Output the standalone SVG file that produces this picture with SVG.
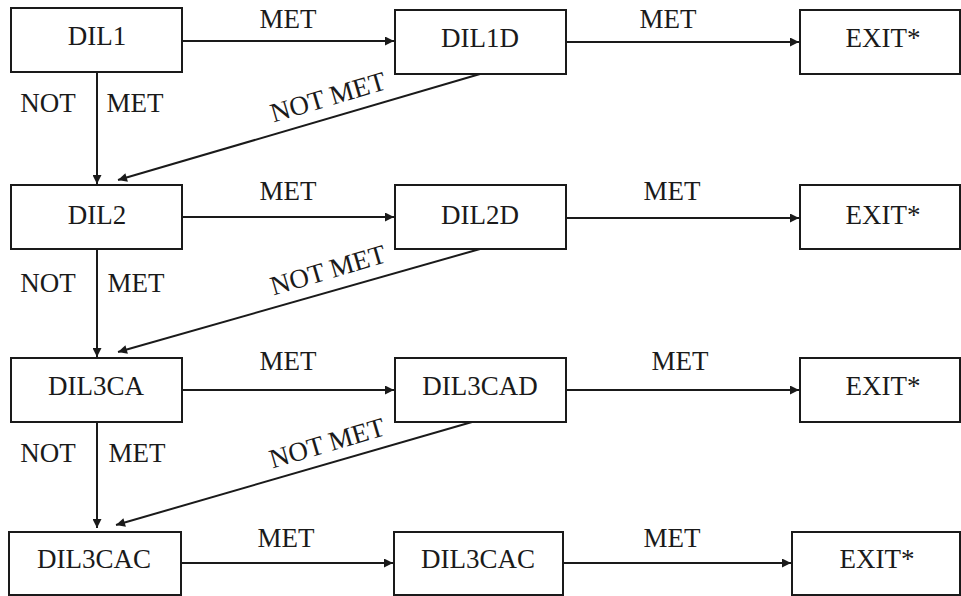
<svg xmlns="http://www.w3.org/2000/svg" width="961" height="596" viewBox="0 0 961 596">
<defs>
<marker id="ah" viewBox="0 0 10 10" refX="10" refY="5" markerWidth="11" markerHeight="9" markerUnits="userSpaceOnUse" orient="auto">
<path d="M0,0 L10,5 L0,10 z" fill="#1a1a1a"/>
</marker>
</defs>
<rect width="961" height="596" fill="#fff"/>
<g id="connectors" stroke="#1a1a1a" stroke-width="2" fill="none" marker-end="url(#ah)">
<line x1="182" y1="41" x2="394" y2="41"/>
<line x1="566" y1="42" x2="799" y2="42"/>
<line x1="97" y1="72" x2="97" y2="184"/>
<line x1="480" y1="74" x2="118" y2="180"/>
<line x1="182" y1="217" x2="394" y2="217"/>
<line x1="566" y1="218" x2="799" y2="218"/>
<line x1="97" y1="249" x2="97" y2="357"/>
<line x1="480" y1="249" x2="118" y2="352"/>
<line x1="182" y1="390" x2="394" y2="390"/>
<line x1="566" y1="390" x2="799" y2="390"/>
<line x1="97" y1="422" x2="97" y2="528"/>
<line x1="472" y1="422" x2="116" y2="525"/>
<line x1="181" y1="563" x2="393" y2="563"/>
<line x1="563" y1="563" x2="791" y2="563"/>
</g>
<g id="connector-labels">
<text font-family="Liberation Serif" font-size="27" fill="#1a1a1a" text-anchor="middle" x="288" y="28">MET</text>
<text font-family="Liberation Serif" font-size="27" fill="#1a1a1a" text-anchor="middle" x="668" y="28">MET</text>
<text font-family="Liberation Serif" font-size="27" fill="#1a1a1a" text-anchor="middle" x="48" y="112">NOT</text>
<text font-family="Liberation Serif" font-size="27" fill="#1a1a1a" text-anchor="middle" x="135" y="112">MET</text>
<text font-family="Liberation Serif" font-size="27" fill="#1a1a1a" text-anchor="middle" transform="translate(328,97) rotate(-16.4)" y="9">NOT MET</text>
<text font-family="Liberation Serif" font-size="27" fill="#1a1a1a" text-anchor="middle" x="288" y="200">MET</text>
<text font-family="Liberation Serif" font-size="27" fill="#1a1a1a" text-anchor="middle" x="672" y="200">MET</text>
<text font-family="Liberation Serif" font-size="27" fill="#1a1a1a" text-anchor="middle" x="48" y="292">NOT</text>
<text font-family="Liberation Serif" font-size="27" fill="#1a1a1a" text-anchor="middle" x="136" y="292">MET</text>
<text font-family="Liberation Serif" font-size="27" fill="#1a1a1a" text-anchor="middle" transform="translate(328,270) rotate(-16.4)" y="9">NOT MET</text>
<text font-family="Liberation Serif" font-size="27" fill="#1a1a1a" text-anchor="middle" x="288" y="370">MET</text>
<text font-family="Liberation Serif" font-size="27" fill="#1a1a1a" text-anchor="middle" x="680" y="370">MET</text>
<text font-family="Liberation Serif" font-size="27" fill="#1a1a1a" text-anchor="middle" x="48" y="462">NOT</text>
<text font-family="Liberation Serif" font-size="27" fill="#1a1a1a" text-anchor="middle" x="137" y="462">MET</text>
<text font-family="Liberation Serif" font-size="27" fill="#1a1a1a" text-anchor="middle" transform="translate(327,443) rotate(-16.4)" y="9">NOT MET</text>
<text font-family="Liberation Serif" font-size="27" fill="#1a1a1a" text-anchor="middle" x="286" y="547">MET</text>
<text font-family="Liberation Serif" font-size="27" fill="#1a1a1a" text-anchor="middle" x="672" y="547">MET</text>
</g>
<g id="DIL1"><rect fill="#fff" stroke="#1a1a1a" stroke-width="2" x="11" y="8" width="171" height="64"/><text font-family="Liberation Serif" font-size="27" fill="#1a1a1a" text-anchor="middle" x="97" y="45">DIL1</text></g>
<g id="DIL1D"><rect fill="#fff" stroke="#1a1a1a" stroke-width="2" x="395" y="10" width="171" height="64"/><text font-family="Liberation Serif" font-size="27" fill="#1a1a1a" text-anchor="middle" x="480" y="47">DIL1D</text></g>
<g id="EXIT1"><rect fill="#fff" stroke="#1a1a1a" stroke-width="2" x="800" y="10" width="160" height="64"/><text font-family="Liberation Serif" font-size="27" fill="#1a1a1a" text-anchor="middle" x="883" y="47">EXIT*</text></g>
<g id="DIL2"><rect fill="#fff" stroke="#1a1a1a" stroke-width="2" x="11" y="185" width="171" height="64"/><text font-family="Liberation Serif" font-size="27" fill="#1a1a1a" text-anchor="middle" x="97" y="224">DIL2</text></g>
<g id="DIL2D"><rect fill="#fff" stroke="#1a1a1a" stroke-width="2" x="395" y="185" width="171" height="64"/><text font-family="Liberation Serif" font-size="27" fill="#1a1a1a" text-anchor="middle" x="480" y="224">DIL2D</text></g>
<g id="EXIT2"><rect fill="#fff" stroke="#1a1a1a" stroke-width="2" x="800" y="185" width="160" height="64"/><text font-family="Liberation Serif" font-size="27" fill="#1a1a1a" text-anchor="middle" x="883" y="224">EXIT*</text></g>
<g id="DIL3CA"><rect fill="#fff" stroke="#1a1a1a" stroke-width="2" x="11" y="358" width="171" height="64"/><text font-family="Liberation Serif" font-size="27" fill="#1a1a1a" text-anchor="middle" x="96" y="395">DIL3CA</text></g>
<g id="DIL3CAD"><rect fill="#fff" stroke="#1a1a1a" stroke-width="2" x="395" y="358" width="171" height="64"/><text font-family="Liberation Serif" font-size="27" fill="#1a1a1a" text-anchor="middle" x="480" y="395">DIL3CAD</text></g>
<g id="EXIT3"><rect fill="#fff" stroke="#1a1a1a" stroke-width="2" x="800" y="358" width="160" height="64"/><text font-family="Liberation Serif" font-size="27" fill="#1a1a1a" text-anchor="middle" x="883" y="395">EXIT*</text></g>
<g id="DIL3CAC"><rect fill="#fff" stroke="#1a1a1a" stroke-width="2" x="9" y="532" width="172" height="63"/><text font-family="Liberation Serif" font-size="27" fill="#1a1a1a" text-anchor="middle" x="94" y="568">DIL3CAC</text></g>
<g id="DIL3CAC2"><rect fill="#fff" stroke="#1a1a1a" stroke-width="2" x="394" y="532" width="169" height="63"/><text font-family="Liberation Serif" font-size="27" fill="#1a1a1a" text-anchor="middle" x="478" y="568">DIL3CAC</text></g>
<g id="EXIT4"><rect fill="#fff" stroke="#1a1a1a" stroke-width="2" x="792" y="532" width="168" height="63"/><text font-family="Liberation Serif" font-size="27" fill="#1a1a1a" text-anchor="middle" x="877" y="568">EXIT*</text></g>
</svg>
